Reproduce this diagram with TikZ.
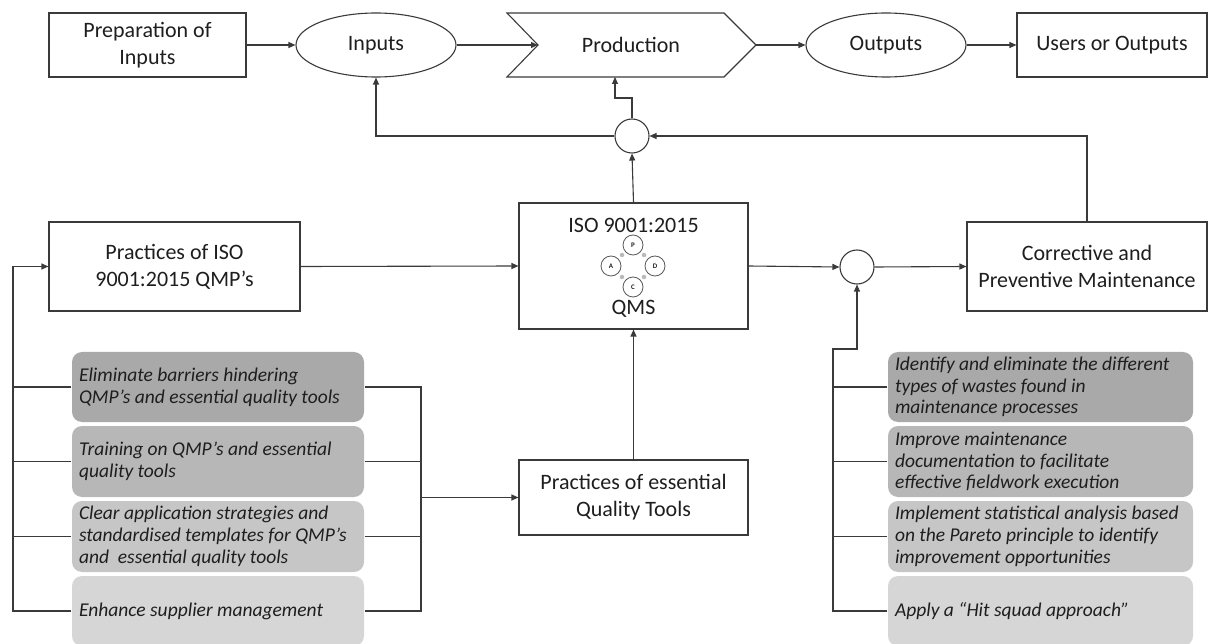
\documentclass[tikz,border=0pt]{standalone}
\usepackage{fontspec}
\setmainfont{Carlito}
\usetikzlibrary{shapes.geometric,arrows.meta}
\definecolor{ln}{HTML}{3A3A3A}
\definecolor{tx}{HTML}{1E1E1E}
\definecolor{ga}{HTML}{A9A9A9}
\definecolor{gb}{HTML}{B7B7B7}
\definecolor{gc}{HTML}{C6C6C6}
\definecolor{gd}{HTML}{D6D6D6}
\begin{document}
\begin{tikzpicture}[x=1pt,y=-1pt,line width=1.1pt,
  mainfont/.style={font=\fontsize{22}{27}\selectfont},
  box/.style={draw=ln,rectangle,inner sep=0,mainfont,align=center,text=tx},
  ell/.style={draw=ln,ellipse,inner sep=0,mainfont,text=tx},
  sumc/.style={draw=ln,circle,minimum size=34,inner sep=0},
  gbox/.style={rectangle,rounded corners=10,inner sep=0,draw=none},
  itext/.style={font=\fontsize{19.5}{21.8}\selectfont\itshape,align=left,inner sep=0,anchor=west,text=tx},
  arr/.style={draw=ln,-{Triangle[length=7pt,width=6pt]}},
  conn/.style={draw=ln},
  pdca/.style={circle,draw=ln!85,line width=0.8pt,minimum size=20,inner sep=0,font=\fontsize{7}{7}\selectfont\bfseries,text=tx},
  dot/.style={circle,fill=gray!55,draw=none,minimum size=4.5,inner sep=0}]
\useasboundingbox (0,0) rectangle (1208,644);

% top row
\node[box,minimum width=197,minimum height=64] (prep) at (147.5,45) {Preparation of\\Inputs};
\node[ell,minimum width=160,minimum height=64] (inputs) at (376,45) {\raisebox{-2pt}{\strut Inputs}};
\draw[draw=ln] (507,13) -- (724,13) -- (756,45) -- (724,77) -- (507,77) -- (538,45) -- cycle;
\node[mainfont,text=tx,inner sep=0] (prod) at (631,47) {\strut Production};
\coordinate (prodin) at (538,45);
\coordinate (prodout) at (756,45);
\coordinate (prodbot) at (615,77);
\node[ell,minimum width=160,minimum height=64] (outputs) at (886,45) {\raisebox{-2pt}{\strut Outputs}};
\node[box,minimum width=190,minimum height=64] (users) at (1112,45) {\raisebox{-2pt}{\strut Users or Outputs}};

% summing junctions
\node[sumc] (sum1) at (632,136) {};
\node[sumc] (sum2) at (857,267) {};

% middle row
\node[box,minimum width=251,minimum height=89] (piso) at (174.5,266.5) {Practices of ISO\\9001:2015 QMP’s};
\node[box,minimum width=229,minimum height=126] (iso) at (633.5,266) {};
\node[mainfont,text=tx,inner sep=0] (isot) at (633.5,227) {\strut ISO 9001:2015};
\node[mainfont,text=tx,inner sep=0] (isoq) at (633.5,309) {\strut QMS};
\node[pdca] (pP) at (633,245) {P};
\node[pdca] (pA) at (611,266) {A};
\node[pdca] (pD) at (655,266) {D};
\node[pdca] (pC) at (633,287) {C};
\node[dot] (d1) at (622,255) {};
\node[dot] (d2) at (644,255) {};
\node[dot] (d3) at (622,277) {};
\node[dot] (d4) at (644,277) {};
\node[box,minimum width=240,minimum height=89] (cpm) at (1087,266.5) {Corrective and\\Preventive Maintenance};
\node[box,minimum width=229,minimum height=75] (qt) at (633.5,497.5) {Practices of essential\\Quality Tools};

% left grey boxes
\node[gbox,fill=ga,minimum width=292,minimum height=70] (l1) at (218,387) {};
\node[gbox,fill=gb,minimum width=292,minimum height=71] (l2) at (218,461.5) {};
\node[gbox,fill=gc,minimum width=292,minimum height=71] (l3) at (218,536.5) {};
\node[gbox,fill=gd,minimum width=292,minimum height=70] (l4) at (218,611) {};
\node[itext] (l1t) at ([xshift=7]l1.west) {Eliminate barriers hindering\\QMP’s and essential quality tools};
\node[itext] (l2t) at ([xshift=7]l2.west) {Training on QMP’s and essential\\quality tools};
\node[itext] (l3t) at ([xshift=7]l3.west) {Clear application strategies and\\standardised templates for QMP’s\\and \ essential quality tools};
\node[itext] (l4t) at ([xshift=7]l4.west) {Enhance supplier management};

% right grey boxes
\node[gbox,fill=ga,minimum width=305,minimum height=70] (r1) at (1040.5,387) {};
\node[gbox,fill=gb,minimum width=305,minimum height=71] (r2) at (1040.5,461.5) {};
\node[gbox,fill=gc,minimum width=305,minimum height=71] (r3) at (1040.5,536.5) {};
\node[gbox,fill=gd,minimum width=305,minimum height=70] (r4) at (1040.5,611) {};
\node[itext] (r1t) at ([xshift=7]r1.west) {Identify and eliminate the different\\types of wastes found in\\maintenance processes};
\node[itext] (r2t) at ([xshift=7]r2.west) {Improve maintenance\\documentation to facilitate\\effective fieldwork execution};
\node[itext] (r3t) at ([xshift=7]r3.west) {Implement statistical analysis based\\on the Pareto principle to identify\\improvement opportunities};
\node[itext] (r4t) at ([xshift=7]r4.west) {Apply a “Hit squad approach”};

% helper coordinates
\coordinate (Lx) at (13,0);
\coordinate (Rx) at (421,0);
\coordinate (kink) at (833,349);
\coordinate (upstep) at (632,98);

% top row connectors
\draw[arr] (prep.east) -- (inputs.west);
\draw[arr] (inputs.east) -- (prodin);
\draw[arr] (prodout) -- (outputs.west);
\draw[arr] (outputs.east) -- (users.west);

% feedback connectors
\draw[arr] (sum1.west) -| (inputs.south);
\draw[arr] (sum1.north) -- (upstep) -| (prodbot);
\draw[arr] (iso.north) -- (sum1.south);
\draw[arr] (cpm.north) |- (sum1.east);

% middle connectors
\draw[arr] (piso.east) -- (iso.west);
\draw[arr] (iso.east) -- (sum2.west);
\draw[arr] (sum2.east) -- (cpm.west);
\draw[arr] (qt.north) -- (iso.south);

% left side
\draw[arr] (l4.west) -- (l4.west -| Lx) |- (piso.west);
\draw[conn] (l1.west) -- (l1.west -| Lx);
\draw[conn] (l2.west) -- (l2.west -| Lx);
\draw[conn] (l3.west) -- (l3.west -| Lx);
\draw[conn] (l1.east) -- (l1.east -| Rx) -- (l4.east -| Rx) -- (l4.east);
\draw[conn] (l2.east) -- (l2.east -| Rx);
\draw[conn] (l3.east) -- (l3.east -| Rx);
\draw[arr] (qt.west -| Rx) -- (qt.west);

% right side
\draw[arr] (r4.west) -| (kink) -| (sum2.south);
\draw[conn] (r1.west) -- (r1.west -| kink);
\draw[conn] (r2.west) -- (r2.west -| kink);
\draw[conn] (r3.west) -- (r3.west -| kink);
\end{tikzpicture}
\end{document}
